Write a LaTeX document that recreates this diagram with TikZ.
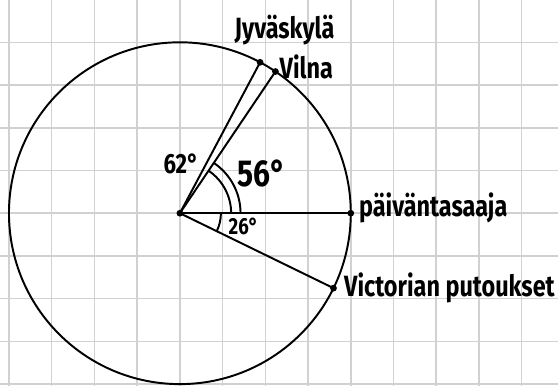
\documentclass[tikz,border=0pt]{standalone}
\usepackage{fontspec}
\newfontfamily\handfont[FakeStretch=0.8]{Fira Sans}
\usepackage{tikz}
\usetikzlibrary{calc}

\tikzset{
    gridline/.style={draw=black!18, line width=1pt},
    pt/.style={circle, fill=black, inner sep=0pt, minimum size=4.5pt},
    lbl/.style={font=\handfont\bfseries\fontsize{19.5}{20}\selectfont, inner sep=0pt},
}

\begin{document}
\begin{tikzpicture}[line width=1.3pt]
    \useasboundingbox (-4.21,-4.03) rectangle (8.85,4.99);
    \fill[white] (-4.21,-4.03) rectangle (8.85,4.99);

    % ruled paper
    \foreach \gx in {-4,...,8} \draw[gridline] (\gx,-4.1) -- (\gx,5.1);
    \foreach \gy in {-4,...,5} \draw[gridline] (-4.3,\gy) -- (8.9,\gy);

    \draw (0,0) circle (4);

    % points on the circle
    \node[pt] (O) at (0,0) {};
    \node[pt] (J) at (62:4) {};
    \node[pt] (V) at (56:4) {};
    \node[pt] (P) at (0:4) {};
    \node[pt] (W) at (-26:4) {};

    \draw (O.center) -- (J.center);
    \draw (O.center) -- (V.center);
    \draw (O.center) -- (P.center);
    \draw (O.center) -- (W.center);

    % angle marks
    \draw (1.2,0) arc (0:56:1.2);
    \draw (1.42,0) arc (0:56:1.42);
    \draw (0.96,0) arc (0:-26:0.96);

    \node[lbl] (jkl) at (2.45,4.28) {Jyväskylä};
    \node[lbl] (vil) at (2.96,3.43) {Vilna};
    \node[lbl] (ekv) at (5.93,0.13) {päiväntasaaja};
    \node[lbl] (vic) at (6.31,-1.74) {Victorian putoukset};

    \node[lbl, font=\handfont\bfseries\fontsize{18.5}{19}\selectfont] (a62) at (0.03,1.16) {62°};
    \node[lbl, font=\handfont\bfseries\fontsize{25}{26}\selectfont] (a56) at (1.91,0.93) {56°};
    \node[lbl, font=\handfont\bfseries\fontsize{15.5}{16}\selectfont] (a26) at (1.49,-0.32) {26°};
\end{tikzpicture}
\end{document}
